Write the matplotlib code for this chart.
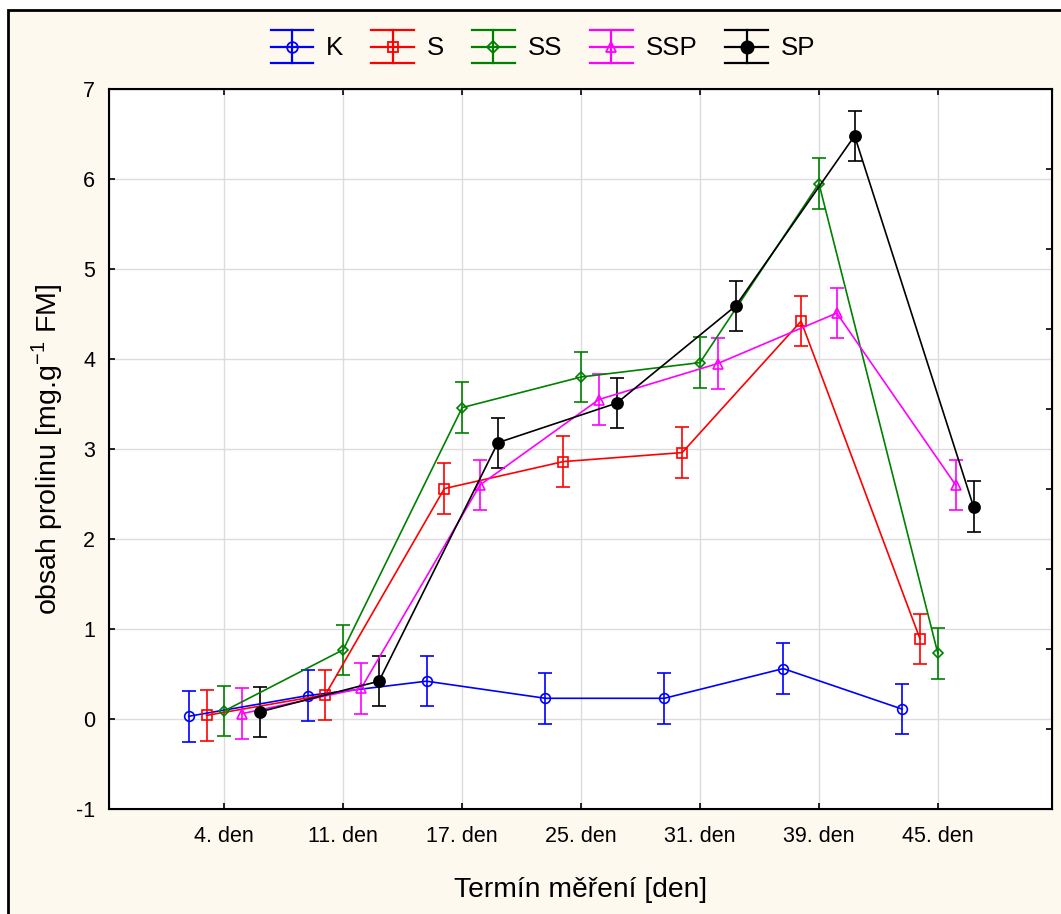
import matplotlib
matplotlib.use("Agg")
import matplotlib.pyplot as plt
import numpy as np
from matplotlib.lines import Line2D
from matplotlib.patches import Rectangle
from matplotlib.legend_handler import HandlerBase

plt.rcParams['font.family'] = ['Liberation Sans', 'DejaVu Sans']
plt.rcParams['axes.unicode_minus'] = False
plt.rcParams['mathtext.fontset'] = 'custom'
plt.rcParams['mathtext.rm'] = 'Liberation Sans'

categories = ["4. den", "11. den", "17. den", "25. den", "31. den", "39. den", "45. den"]
series_names = ["K", "S", "SS", "SSP", "SP"]
K   = [0.03, 0.26, 0.42, 0.23, 0.23, 0.56, 0.11]
S   = [0.04, 0.27, 2.56, 2.86, 2.96, 4.42, 0.89]
SS  = [0.09, 0.77, 3.46, 3.80, 3.96, 5.95, 0.73]
SSP = [0.06, 0.34, 2.60, 3.55, 3.95, 4.51, 2.60]
SP  = [0.08, 0.42, 3.07, 3.51, 4.59, 6.48, 2.36]
err = 0.28

values = [K, S, SS, SSP, SP]
colors = ["#0000ff", "#ff0000", "#008000", "#ff00ff", "#000000"]
markers = ["o", "s", "D", "^", "o"]
msizes = [7, 7, 5.5, 7, 8]
faces = ["none", "none", "none", "none", "#000000"]
offsets = [-0.30, -0.15, 0.0, 0.15, 0.30]

W, H = 1061, 914
fig = plt.figure(figsize=(W/100, H/100), dpi=100, facecolor="white")
fig.patches.append(Rectangle((8/W, -0.1), 1.2, 1 - 10/H + 0.1, transform=fig.transFigure,
                             facecolor="#fdf9ef", edgecolor="black", lw=2, zorder=-10))
ax = fig.add_axes([109/W, 1 - 809/H, (1052-109)/W, (809-89)/H])
ax.set_facecolor("white")

x = np.arange(len(categories))
for name, v, c, m, ms, fc, off in zip(series_names, values, colors, markers, msizes, faces, offsets):
    ax.errorbar(x + off, v, yerr=err, color=c, marker=m, ms=ms, mfc=fc, mec=c, mew=1.2,
                lw=1.2, elinewidth=1.2, capsize=5, capthick=1.2, zorder=3)

ax.set_xlim(-0.97, 6.96)
ax.set_ylim(-1, 7)
ax.set_xticks(x)
ax.set_xticklabels(categories)
ax.set_yticks(range(-1, 8))
ax.grid(True, color="#dcdcdc", lw=1)
ax.set_axisbelow(True)
ax.tick_params(axis="both", direction="in", length=4, width=1.2, labelsize=15.5, top=True)
ax.tick_params(axis="x", pad=12)
ax.tick_params(axis="y", pad=10)
for s in ax.spines.values():
    s.set_linewidth(1.5)

ax2 = ax.twinx()
ax2.set_ylim(0, 9)
ax2.set_yticks(range(10))
ax2.set_yticklabels([])
ax2.tick_params(axis="y", direction="in", length=4, width=1.2)

ax.set_xlabel("Termín měření [den]", fontsize=20.3, labelpad=22)
ax.set_ylabel(r"obsah prolinu [mg.g$^{\mathregular{-1}}$ FM]", fontsize=20.5, labelpad=8)


class ErrHandler(HandlerBase):
    def create_artists(self, legend, orig, xd, yd, w, h, fs, trans):
        c = orig.get_color()
        cy = h / 2 - yd
        x0, x1 = -xd, -xd + w
        xm = (x0 + x1) / 2
        hh = 0.64 * fs
        arts = []
        for yy in (cy - hh, cy, cy + hh):
            arts.append(Line2D([x0, x1], [yy, yy], color=c, lw=1.6, transform=trans))
        arts.append(Line2D([xm, xm], [cy - hh, cy + hh], color=c, lw=1.6, transform=trans))
        arts.append(Line2D([xm], [cy], color=c, marker=orig.get_marker(), ms=orig.get_markersize(),
                           mfc=orig.get_markerfacecolor(), mec=c, mew=1.3, ls="none", transform=trans))
        return arts


proxies = [Line2D([], [], color=c, marker=m, ms=ms * 1.1, mfc=fc) for c, m, ms, fc in
           zip(colors, markers, msizes, faces)]
fig.legend(proxies, series_names, handler_map={Line2D: ErrHandler()}, loc="center",
           bbox_to_anchor=(543/W, 1 - 47/H), ncol=5, frameon=False, fontsize=18.6,
           handlelength=1.65, handletextpad=0.5, columnspacing=1.08, handleheight=1.2)

fig.savefig("out.png", dpi=100, facecolor=fig.get_facecolor())
